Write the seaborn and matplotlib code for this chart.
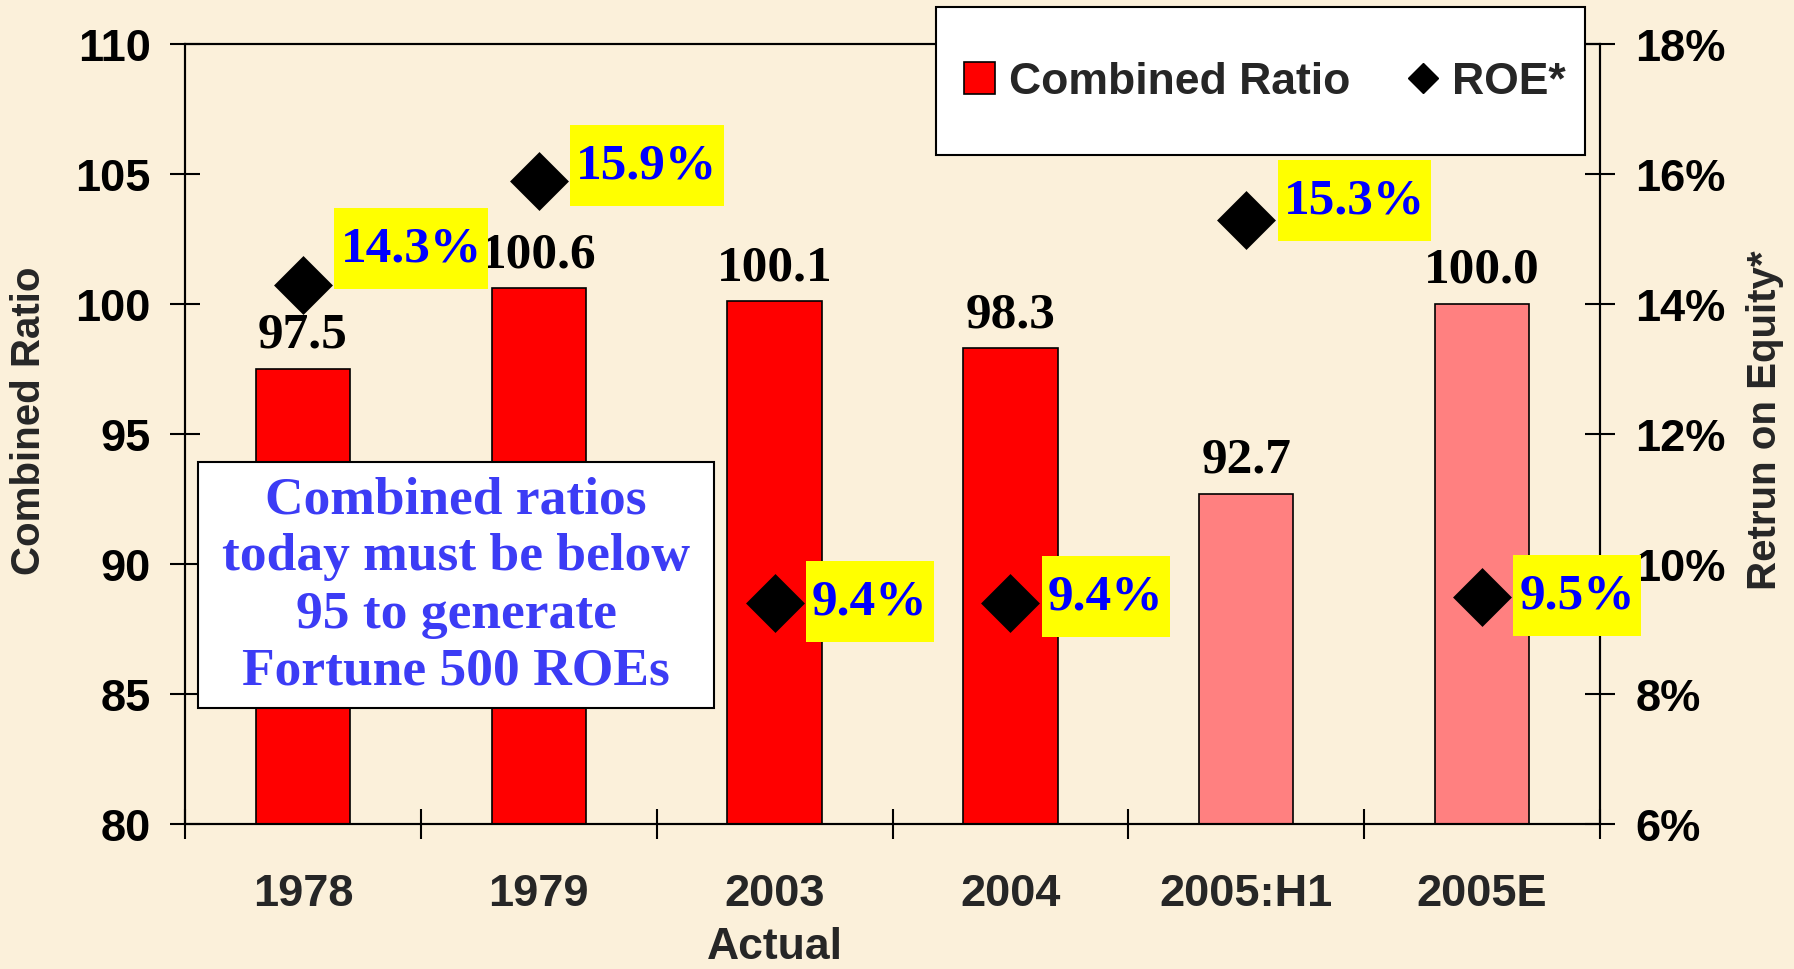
import numpy as np
import pandas as pd
import matplotlib
matplotlib.use("Agg")
import matplotlib.pyplot as plt
import matplotlib.transforms as mtransforms
import seaborn as sns
from matplotlib.lines import Line2D
from matplotlib.patches import Patch, Rectangle
from matplotlib.path import Path

# ---------------- data ----------------
categories = ["1978", "1979", "2003", "2004", "2005:H1", "2005E"]
combined_ratio = [97.5, 100.6, 100.1, 98.3, 92.7, 100.0]
roe = [14.3, 15.9, 9.4, 9.4, 15.3, 9.5]
left_ticks = [80, 85, 90, 95, 100, 105, 110]
right_ticks = [6, 8, 10, 12, 14, 16, 18]
right_ticklabels = [f"{t}%" for t in right_ticks]
note_text = "Combined ratios\ntoday must be below\n95 to generate\nFortune 500 ROEs"

# ---------------- style ----------------
bar_colors = ["#FF0000", "#FF0000", "#FF0000", "#FF0000", "#FF8080", "#FF8080"]
roe_label_dy = [26, 11, 1, 5, 14, 1]  # label offsets in points
BG = "#FBF0DA"


def make_box(px, py):
    """Rectangular box with separate horizontal / vertical padding."""
    def box(x0, y0, width, height, mutation_size):
        dx = px * mutation_size
        dy = py * mutation_size
        xa, ya = x0 - dx, y0 - dy
        xb, yb = x0 + width + dx, y0 + height + dy
        return Path([(xa, ya), (xb, ya), (xb, yb), (xa, yb), (xa, ya)],
                    closed=True)
    return box


sns.set_theme(style="white")
plt.rcParams["font.family"] = ["Liberation Sans", "DejaVu Sans"]
SERIF = ["Liberation Serif", "DejaVu Serif"]

fig = plt.figure(figsize=(17.94, 9.70), dpi=100, facecolor=BG)
W, H = 1794, 970
ax = fig.add_axes([185 / W, 1 - 825 / H, (1600 - 185) / W, (825 - 45) / H])
ax.set_facecolor("none")

df = pd.DataFrame({"cat": categories, "cr": combined_ratio, "roe": roe})
sns.barplot(data=df, x="cat", y="cr", hue="cat", palette=bar_colors, width=0.4,
            saturation=1, edgecolor="black", linewidth=1.2, legend=False,
            dodge=False, ax=ax)
ax.set_xlim(-0.5, len(categories) - 0.5)
ax.set_ylim(80, 110)

for c in ax.containers:
    ax.bar_label(c, fmt="%.1f", padding=8, fontsize=37, fontweight="bold",
                 family=SERIF, color="black")

# axes styling
for sp in ax.spines.values():
    sp.set_visible(True)
    sp.set_color("black")
    sp.set_linewidth(1.5)
ax.set_yticks(left_ticks)
ax.set_yticklabels([str(t) for t in left_ticks], fontsize=32.5, fontweight="bold")
ax.tick_params(axis="y", direction="inout", length=21, width=1.5, pad=14,
               colors="black", left=True)
ax.set_xticks(range(len(categories)))
ax.set_xticklabels(categories, fontsize=32.5, fontweight="bold")
ax.tick_params(axis="x", which="major", length=0, pad=35)
ax.set_xticks(np.arange(-0.5, len(categories), 1.0), minor=True)
ax.tick_params(axis="x", which="minor", direction="inout", length=21, width=1.5,
               bottom=True, color="black")
ax.set_xlabel("")
ax.set_ylabel("")
ax.grid(False)

# ROE on twin axis
ax2 = ax.twinx()
ax2.set_facecolor("none")
sns.scatterplot(x=np.arange(len(categories)), y=roe, marker="D", s=900,
                color="black", edgecolor="black", linewidth=0, legend=False,
                ax=ax2, zorder=5)
ax2.set_ylim(6, 18)
ax2.set_yticks(right_ticks)
ax2.set_yticklabels(right_ticklabels, fontsize=32.5, fontweight="bold")
ax2.tick_params(axis="y", direction="inout", length=21, width=1.5, pad=15,
                colors="black", right=True)
for sp in ax2.spines.values():
    sp.set_visible(True)
    sp.set_color("black")
    sp.set_linewidth(1.5)
ax2.grid(False)
ax2.set_ylabel("")

for i, v in enumerate(roe):
    ax2.annotate(f"{v:.1f}%", xy=(i, v), xytext=(27, roe_label_dy[i]),
                 textcoords="offset points", ha="left", va="center",
                 fontsize=37, fontweight="bold", family=SERIF, color="#0000FF",
                 bbox=dict(boxstyle=make_box(0.12, 0.34), fc="#FFFF00", ec="none"),
                 zorder=6)

# note box
ax.text(0.1915, 0.3064, note_text, transform=ax.transAxes, ha="center",
        va="center", multialignment="center", fontsize=38.5, fontweight="bold",
        family=SERIF, color="#3C3CF5", linespacing=1.25, zorder=10,
        bbox=dict(boxstyle=make_box(0.45, 0.24), fc="white", ec="black", lw=1.5))

# axis titles
fig.text(28.6 / W, 1 - 421 / H, "Combined Ratio", rotation=90, ha="center",
         va="center", fontsize=29, fontweight="bold")
fig.text(1765 / W, 1 - 420 / H, "Retrun on Equity*", rotation=90, ha="center",
         va="center", fontsize=29, fontweight="bold")
trans = mtransforms.blended_transform_factory(ax.transData, ax.transAxes)
ax.text(2, -0.157, "Actual", transform=trans, ha="center", va="center",
        fontsize=32, fontweight="bold")

# legend (frame drawn as a separate white box)
fig.patches.append(Rectangle((936 / W, 1 - 156 / H), (1585 - 936) / W, 148 / H,
                             transform=fig.transFigure, facecolor="white",
                             edgecolor="black", linewidth=1.5, zorder=4))
handles = [Patch(facecolor="#FF0000", edgecolor="black", linewidth=1.2,
                 label="Combined Ratio"),
           Line2D([], [], marker="D", color="black", linestyle="none",
                  markersize=15, label="ROE*")]
leg = fig.legend(handles=handles, loc="center", bbox_to_anchor=(1265 / W, 1 - 83 / H),
                 ncol=2, frameon=False, prop={"size": 32, "weight": "bold"},
                 borderpad=0.2, handlelength=0.7, handleheight=0.7,
                 handletextpad=0.3, columnspacing=1.3)
leg.set_zorder(5)

fig.savefig("out.png", dpi=100, facecolor=BG)
